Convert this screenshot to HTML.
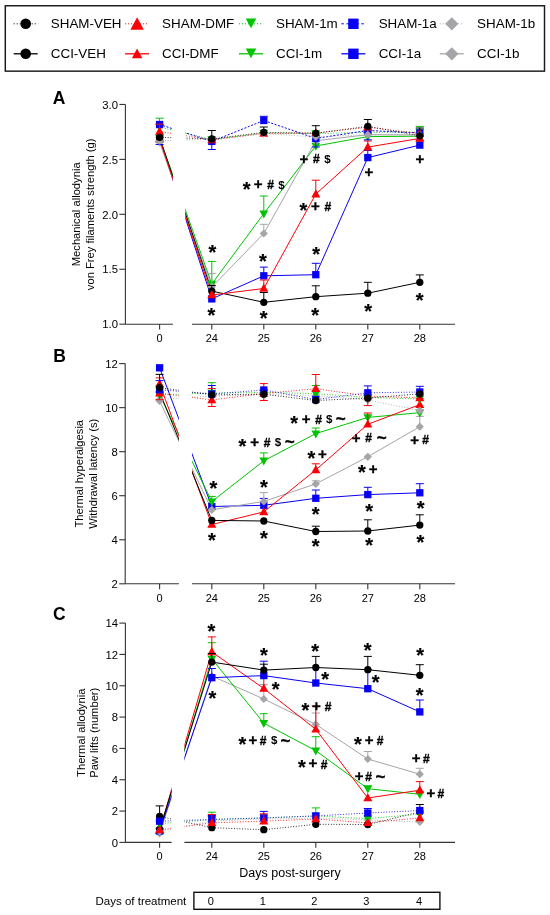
<!DOCTYPE html>
<html><head><meta charset="utf-8"><style>
html,body{margin:0;padding:0;background:#fff;}
svg{display:block;font-family:"Liberation Sans", sans-serif;will-change:transform;}
</style></head><body>
<svg width="550" height="915" viewBox="0 0 550 915">
<rect width="550" height="915" fill="#fff"/>
<rect x="5.3" y="5.75" width="539.2" height="65.4" fill="none" stroke="#1a1a1a" stroke-width="1.45"/>
<line x1="13.7" y1="23.8" x2="37.7" y2="23.8" stroke="#000" stroke-width="1" stroke-dasharray="1 2"/>
<circle cx="25.70" cy="23.80" r="5.3" fill="#000"/>
<text x="50.8" y="28.15" font-size="13.4">SHAM-VEH</text>
<line x1="125.1" y1="23.8" x2="149.1" y2="23.8" stroke="#fb0007" stroke-width="1" stroke-dasharray="1 2"/>
<polygon points="137.10,17.20 143.80,29.70 130.40,29.70" fill="#fb0007"/>
<text x="162.1" y="28.15" font-size="13.4">SHAM-DMF</text>
<line x1="239.0" y1="23.8" x2="263.0" y2="23.8" stroke="#00c400" stroke-width="1" stroke-dasharray="1 2"/>
<polygon points="245.75,18.50 256.25,18.50 251.00,28.30" fill="#00c400"/>
<text x="276.0" y="28.15" font-size="13.4">SHAM-1m</text>
<line x1="341.4" y1="23.8" x2="365.4" y2="23.8" stroke="#0800f2" stroke-width="1" stroke-dasharray="2.5 2.5"/>
<rect x="348.20" y="18.60" width="10.40" height="10.40" fill="#0800f2"/>
<text x="378.7" y="28.15" font-size="13.4">SHAM-1a</text>
<line x1="439.8" y1="23.8" x2="463.8" y2="23.8" stroke="#a5a4a8" stroke-width="1" stroke-dasharray="1 2"/>
<polygon points="451.80,17.19 458.42,23.80 451.80,30.41 445.19,23.80" fill="#a5a4a8"/>
<text x="477.1" y="28.15" font-size="13.4">SHAM-1b</text>
<line x1="13.7" y1="53.8" x2="37.7" y2="53.8" stroke="#000" stroke-width="1.3"/>
<circle cx="25.70" cy="53.80" r="5.3" fill="#000"/>
<text x="50.8" y="58.15" font-size="13.4">CCI-VEH</text>
<line x1="125.1" y1="53.8" x2="149.1" y2="53.8" stroke="#fb0007" stroke-width="1.3"/>
<polygon points="137.10,48.50 142.30,58.30 131.90,58.30" fill="#fb0007"/>
<text x="162.1" y="58.15" font-size="13.4">CCI-DMF</text>
<line x1="239.0" y1="53.8" x2="263.0" y2="53.8" stroke="#00c400" stroke-width="1.3"/>
<polygon points="245.75,48.50 256.25,48.50 251.00,58.30" fill="#00c400"/>
<text x="276.0" y="58.15" font-size="13.4">CCI-1m</text>
<line x1="341.4" y1="53.8" x2="365.4" y2="53.8" stroke="#0800f2" stroke-width="1.3"/>
<rect x="348.20" y="48.60" width="10.40" height="10.40" fill="#0800f2"/>
<text x="378.7" y="58.15" font-size="13.4">CCI-1a</text>
<line x1="439.8" y1="53.8" x2="463.8" y2="53.8" stroke="#a5a4a8" stroke-width="1.3"/>
<polygon points="451.80,47.18 458.42,53.80 451.80,60.41 445.19,53.80" fill="#a5a4a8"/>
<text x="477.1" y="58.15" font-size="13.4">CCI-1b</text>
<text x="52.8" y="103.9" font-size="17.5" font-weight="bold">A</text>
<line x1="125.4" y1="104.45" x2="125.4" y2="324.2" stroke="#333" stroke-width="1.1"/>
<line x1="119.4" y1="104.45" x2="125.4" y2="104.45" stroke="#333" stroke-width="1.1"/>
<text x="118.00" y="108.65" font-size="11.3" text-anchor="end">3.0</text>
<line x1="119.4" y1="159.39" x2="125.4" y2="159.39" stroke="#333" stroke-width="1.1"/>
<text x="118.00" y="163.59" font-size="11.3" text-anchor="end">2.5</text>
<line x1="119.4" y1="214.32" x2="125.4" y2="214.32" stroke="#333" stroke-width="1.1"/>
<text x="118.00" y="218.52" font-size="11.3" text-anchor="end">2.0</text>
<line x1="119.4" y1="269.26" x2="125.4" y2="269.26" stroke="#333" stroke-width="1.1"/>
<text x="118.00" y="273.46" font-size="11.3" text-anchor="end">1.5</text>
<line x1="119.4" y1="324.20" x2="125.4" y2="324.20" stroke="#333" stroke-width="1.1"/>
<text x="118.00" y="328.40" font-size="11.3" text-anchor="end">1.0</text>
<line x1="125.4" y1="324.2" x2="172.9" y2="324.2" stroke="#333" stroke-width="1.1"/>
<line x1="192.0" y1="324.2" x2="455" y2="324.2" stroke="#333" stroke-width="1.1"/>
<line x1="159.6" y1="324.2" x2="159.6" y2="329.60" stroke="#333" stroke-width="1.1"/>
<text x="159.6" y="342.20" font-size="11" text-anchor="middle">0</text>
<line x1="211.8" y1="324.2" x2="211.8" y2="329.60" stroke="#333" stroke-width="1.1"/>
<text x="211.8" y="342.20" font-size="11" text-anchor="middle">24</text>
<line x1="263.8" y1="324.2" x2="263.8" y2="329.60" stroke="#333" stroke-width="1.1"/>
<text x="263.8" y="342.20" font-size="11" text-anchor="middle">25</text>
<line x1="315.8" y1="324.2" x2="315.8" y2="329.60" stroke="#333" stroke-width="1.1"/>
<text x="315.8" y="342.20" font-size="11" text-anchor="middle">26</text>
<line x1="367.8" y1="324.2" x2="367.8" y2="329.60" stroke="#333" stroke-width="1.1"/>
<text x="367.8" y="342.20" font-size="11" text-anchor="middle">27</text>
<line x1="419.8" y1="324.2" x2="419.8" y2="329.60" stroke="#333" stroke-width="1.1"/>
<text x="419.8" y="342.20" font-size="11" text-anchor="middle">28</text>
<text transform="translate(80.3,214.32) rotate(-90)" font-size="11.2" text-anchor="middle">Mechanical allodynia</text>
<text transform="translate(94.0,214.32) rotate(-90)" font-size="11.2" text-anchor="middle">von Frey filaments strength (g)</text>
<text x="53.2" y="362.1" font-size="17.5" font-weight="bold">B</text>
<line x1="125.2" y1="363.6" x2="125.2" y2="583.8" stroke="#333" stroke-width="1.1"/>
<line x1="119.2" y1="363.60" x2="125.2" y2="363.60" stroke="#333" stroke-width="1.1"/>
<text x="117.80" y="367.80" font-size="11.3" text-anchor="end">12</text>
<line x1="119.2" y1="407.64" x2="125.2" y2="407.64" stroke="#333" stroke-width="1.1"/>
<text x="117.80" y="411.84" font-size="11.3" text-anchor="end">10</text>
<line x1="119.2" y1="451.68" x2="125.2" y2="451.68" stroke="#333" stroke-width="1.1"/>
<text x="117.80" y="455.88" font-size="11.3" text-anchor="end">8</text>
<line x1="119.2" y1="495.72" x2="125.2" y2="495.72" stroke="#333" stroke-width="1.1"/>
<text x="117.80" y="499.92" font-size="11.3" text-anchor="end">6</text>
<line x1="119.2" y1="539.76" x2="125.2" y2="539.76" stroke="#333" stroke-width="1.1"/>
<text x="117.80" y="543.96" font-size="11.3" text-anchor="end">4</text>
<line x1="119.2" y1="583.80" x2="125.2" y2="583.80" stroke="#333" stroke-width="1.1"/>
<text x="117.80" y="588.00" font-size="11.3" text-anchor="end">2</text>
<line x1="125.2" y1="583.8" x2="178.9" y2="583.8" stroke="#333" stroke-width="1.1"/>
<line x1="192.0" y1="583.8" x2="455" y2="583.8" stroke="#333" stroke-width="1.1"/>
<line x1="159.6" y1="583.8" x2="159.6" y2="589.20" stroke="#333" stroke-width="1.1"/>
<text x="159.6" y="601.80" font-size="11" text-anchor="middle">0</text>
<line x1="211.8" y1="583.8" x2="211.8" y2="589.20" stroke="#333" stroke-width="1.1"/>
<text x="211.8" y="601.80" font-size="11" text-anchor="middle">24</text>
<line x1="263.8" y1="583.8" x2="263.8" y2="589.20" stroke="#333" stroke-width="1.1"/>
<text x="263.8" y="601.80" font-size="11" text-anchor="middle">25</text>
<line x1="315.8" y1="583.8" x2="315.8" y2="589.20" stroke="#333" stroke-width="1.1"/>
<text x="315.8" y="601.80" font-size="11" text-anchor="middle">26</text>
<line x1="367.8" y1="583.8" x2="367.8" y2="589.20" stroke="#333" stroke-width="1.1"/>
<text x="367.8" y="601.80" font-size="11" text-anchor="middle">27</text>
<line x1="419.8" y1="583.8" x2="419.8" y2="589.20" stroke="#333" stroke-width="1.1"/>
<text x="419.8" y="601.80" font-size="11" text-anchor="middle">28</text>
<text transform="translate(83.2,473.70) rotate(-90)" font-size="11.2" text-anchor="middle">Thermal hyperalgesia</text>
<text transform="translate(96.8,473.70) rotate(-90)" font-size="11.2" text-anchor="middle">Withdrawal latency (s)</text>
<text x="53.1" y="619.7" font-size="17.5" font-weight="bold">C</text>
<line x1="125.4" y1="623.1" x2="125.4" y2="842.4" stroke="#333" stroke-width="1.1"/>
<line x1="119.4" y1="623.10" x2="125.4" y2="623.10" stroke="#333" stroke-width="1.1"/>
<text x="118.00" y="627.30" font-size="11.3" text-anchor="end">14</text>
<line x1="119.4" y1="654.43" x2="125.4" y2="654.43" stroke="#333" stroke-width="1.1"/>
<text x="118.00" y="658.63" font-size="11.3" text-anchor="end">12</text>
<line x1="119.4" y1="685.76" x2="125.4" y2="685.76" stroke="#333" stroke-width="1.1"/>
<text x="118.00" y="689.96" font-size="11.3" text-anchor="end">10</text>
<line x1="119.4" y1="717.09" x2="125.4" y2="717.09" stroke="#333" stroke-width="1.1"/>
<text x="118.00" y="721.29" font-size="11.3" text-anchor="end">8</text>
<line x1="119.4" y1="748.41" x2="125.4" y2="748.41" stroke="#333" stroke-width="1.1"/>
<text x="118.00" y="752.61" font-size="11.3" text-anchor="end">6</text>
<line x1="119.4" y1="779.74" x2="125.4" y2="779.74" stroke="#333" stroke-width="1.1"/>
<text x="118.00" y="783.94" font-size="11.3" text-anchor="end">4</text>
<line x1="119.4" y1="811.07" x2="125.4" y2="811.07" stroke="#333" stroke-width="1.1"/>
<text x="118.00" y="815.27" font-size="11.3" text-anchor="end">2</text>
<line x1="119.4" y1="842.40" x2="125.4" y2="842.40" stroke="#333" stroke-width="1.1"/>
<text x="118.00" y="846.60" font-size="11.3" text-anchor="end">0</text>
<line x1="125.4" y1="842.4" x2="171.6" y2="842.4" stroke="#333" stroke-width="1.1"/>
<line x1="184.4" y1="842.4" x2="455" y2="842.4" stroke="#333" stroke-width="1.1"/>
<line x1="159.6" y1="842.4" x2="159.6" y2="847.80" stroke="#333" stroke-width="1.1"/>
<text x="159.6" y="860.40" font-size="11" text-anchor="middle">0</text>
<line x1="211.8" y1="842.4" x2="211.8" y2="847.80" stroke="#333" stroke-width="1.1"/>
<text x="211.8" y="860.40" font-size="11" text-anchor="middle">24</text>
<line x1="263.8" y1="842.4" x2="263.8" y2="847.80" stroke="#333" stroke-width="1.1"/>
<text x="263.8" y="860.40" font-size="11" text-anchor="middle">25</text>
<line x1="315.8" y1="842.4" x2="315.8" y2="847.80" stroke="#333" stroke-width="1.1"/>
<text x="315.8" y="860.40" font-size="11" text-anchor="middle">26</text>
<line x1="367.8" y1="842.4" x2="367.8" y2="847.80" stroke="#333" stroke-width="1.1"/>
<text x="367.8" y="860.40" font-size="11" text-anchor="middle">27</text>
<line x1="419.8" y1="842.4" x2="419.8" y2="847.80" stroke="#333" stroke-width="1.1"/>
<text x="419.8" y="860.40" font-size="11" text-anchor="middle">28</text>
<text transform="translate(85.1,732.75) rotate(-90)" font-size="11.2" text-anchor="middle">Thermal allodynia</text>
<text transform="translate(98.2,732.75) rotate(-90)" font-size="11.2" text-anchor="middle">Paw lifts (number)</text>
<defs>
<clipPath id="clipA"><rect x="0" y="0" width="172.9" height="915"/><rect x="185.3" y="0" width="364.7" height="915"/></clipPath>
<clipPath id="clipB"><rect x="0" y="0" width="178.9" height="915"/><rect x="192.0" y="0" width="358.0" height="915"/></clipPath>
<clipPath id="clipC"><rect x="0" y="0" width="171.6" height="915"/><rect x="184.4" y="0" width="365.6" height="915"/></clipPath>
</defs>
<g clip-path="url(#clipA)" fill="none">
<polyline points="159.6,139.0 211.8,298.9 263.8,275.8 315.8,274.7 367.8,157.6 419.8,145.1" stroke="#0800f2" stroke-width="1.0"/>
<polyline points="159.6,138.0 211.8,284.0 263.8,213.6 315.8,146.0 367.8,136.6 419.8,136.2" stroke="#00c400" stroke-width="1.0"/>
<polyline points="159.6,142.5 211.8,287.0 263.8,233.5 315.8,140.8 367.8,134.7 419.8,135.0" stroke="#a5a4a8" stroke-width="1.0"/>
<polyline points="159.6,137.5 211.8,291.1 263.8,302.3 315.8,296.7 367.8,293.2 419.8,282.3" stroke="#000" stroke-width="1.0"/>
<polyline points="159.6,139.0 211.8,295.0 263.8,288.5 315.8,194.1 367.8,147.1 419.8,138.4" stroke="#fb0007" stroke-width="1.0"/>
<polyline points="159.6,127.0 211.8,139.5 263.8,133.0 315.8,133.5 367.8,132.5 419.8,132.0" stroke="#00c400" stroke-width="0.9" stroke-dasharray="0.9 1.8"/>
<polyline points="159.6,124.5 211.8,141.4 263.8,120.5 315.8,138.4 367.8,130.5 419.8,133.0" stroke="#0800f2" stroke-width="1" stroke-dasharray="2 1.6"/>
<polyline points="159.6,131.5 211.8,140.0 263.8,133.5 315.8,133.0 367.8,127.2 419.8,133.5" stroke="#fb0007" stroke-width="0.9" stroke-dasharray="0.9 1.8"/>
<polyline points="159.6,141.0 211.8,139.0 263.8,133.5 315.8,137.0 367.8,134.7 419.8,134.5" stroke="#a5a4a8" stroke-width="0.9" stroke-dasharray="0.9 1.8"/>
<polyline points="159.6,137.3 211.8,139.0 263.8,132.3 315.8,133.3 367.8,126.3 419.8,135.8" stroke="#000" stroke-width="0.9" stroke-dasharray="0.9 1.8"/>
</g>
<path d="M263.8 275.8V267.1M259.8 267.1H267.8" stroke="#0800f2" stroke-width="1" fill="none"/>
<path d="M315.8 274.7V263.3M311.8 263.3H319.8" stroke="#0800f2" stroke-width="1" fill="none"/>
<path d="M367.8 157.6V150.5M363.8 150.5H371.8" stroke="#0800f2" stroke-width="1" fill="none"/>
<path d="M419.8 145.1V140.0M415.8 140.0H423.8" stroke="#0800f2" stroke-width="1" fill="none"/>
<rect x="155.95" y="135.35" width="7.30" height="7.30" fill="#0800f2"/>
<rect x="208.15" y="295.25" width="7.30" height="7.30" fill="#0800f2"/>
<rect x="260.15" y="272.15" width="7.30" height="7.30" fill="#0800f2"/>
<rect x="312.15" y="271.05" width="7.30" height="7.30" fill="#0800f2"/>
<rect x="364.15" y="153.95" width="7.30" height="7.30" fill="#0800f2"/>
<rect x="416.15" y="141.45" width="7.30" height="7.30" fill="#0800f2"/>
<path d="M211.8 284.0V261.4M207.8 261.4H215.8" stroke="#00c400" stroke-width="1" fill="none"/>
<path d="M263.8 213.6V196.0M259.8 196.0H267.8" stroke="#00c400" stroke-width="1" fill="none"/>
<path d="M315.8 146.0V140.0M311.8 140.0H319.8" stroke="#00c400" stroke-width="1" fill="none"/>
<path d="M419.8 136.2V126.4M415.8 126.4H423.8" stroke="#00c400" stroke-width="1" fill="none"/>
<polygon points="155.20,134.80 164.00,134.80 159.60,142.80" fill="#00c400"/>
<polygon points="207.40,280.80 216.20,280.80 211.80,288.80" fill="#00c400"/>
<polygon points="259.40,210.40 268.20,210.40 263.80,218.40" fill="#00c400"/>
<polygon points="311.40,142.80 320.20,142.80 315.80,150.80" fill="#00c400"/>
<polygon points="363.40,133.40 372.20,133.40 367.80,141.40" fill="#00c400"/>
<polygon points="415.40,133.00 424.20,133.00 419.80,141.00" fill="#00c400"/>
<path d="M211.8 287.0V273.4M207.8 273.4H215.8" stroke="#a5a4a8" stroke-width="1" fill="none"/>
<path d="M263.8 233.5V224.3M259.8 224.3H267.8" stroke="#a5a4a8" stroke-width="1" fill="none"/>
<polygon points="159.60,138.41 163.69,142.50 159.60,146.59 155.50,142.50" fill="#a5a4a8"/>
<polygon points="211.80,282.90 215.90,287.00 211.80,291.10 207.71,287.00" fill="#a5a4a8"/>
<polygon points="263.80,229.41 267.90,233.50 263.80,237.59 259.70,233.50" fill="#a5a4a8"/>
<polygon points="315.80,136.71 319.90,140.80 315.80,144.90 311.70,140.80" fill="#a5a4a8"/>
<polygon points="367.80,130.60 371.90,134.70 367.80,138.79 363.70,134.70" fill="#a5a4a8"/>
<polygon points="419.80,130.91 423.90,135.00 419.80,139.09 415.70,135.00" fill="#a5a4a8"/>
<path d="M211.8 291.1V285.5M207.8 285.5H215.8" stroke="#000" stroke-width="1" fill="none"/>
<path d="M263.8 302.3V292.5M259.8 292.5H267.8" stroke="#000" stroke-width="1" fill="none"/>
<path d="M315.8 296.7V285.8M311.8 285.8H319.8" stroke="#000" stroke-width="1" fill="none"/>
<path d="M367.8 293.2V282.3M363.8 282.3H371.8" stroke="#000" stroke-width="1" fill="none"/>
<path d="M419.8 282.3V274.9M415.8 274.9H423.8" stroke="#000" stroke-width="1" fill="none"/>
<circle cx="159.60" cy="137.50" r="3.65" fill="#000"/>
<circle cx="211.80" cy="291.10" r="3.65" fill="#000"/>
<circle cx="263.80" cy="302.30" r="3.65" fill="#000"/>
<circle cx="315.80" cy="296.70" r="3.65" fill="#000"/>
<circle cx="367.80" cy="293.20" r="3.65" fill="#000"/>
<circle cx="419.80" cy="282.30" r="3.65" fill="#000"/>
<path d="M263.8 288.5V280.0M259.8 280.0H267.8" stroke="#fb0007" stroke-width="1" fill="none"/>
<path d="M315.8 194.1V180.2M311.8 180.2H319.8" stroke="#fb0007" stroke-width="1" fill="none"/>
<path d="M367.8 147.1V141.0M363.8 141.0H371.8" stroke="#fb0007" stroke-width="1" fill="none"/>
<polygon points="159.60,134.08 164.11,142.28 155.09,142.28" fill="#fb0007"/>
<polygon points="211.80,290.08 216.31,298.28 207.29,298.28" fill="#fb0007"/>
<polygon points="263.80,283.58 268.31,291.78 259.29,291.78" fill="#fb0007"/>
<polygon points="315.80,189.18 320.31,197.38 311.29,197.38" fill="#fb0007"/>
<polygon points="367.80,142.18 372.31,150.38 363.29,150.38" fill="#fb0007"/>
<polygon points="419.80,133.48 424.31,141.68 415.29,141.68" fill="#fb0007"/>
<path d="M159.6 127.0V118.2M155.6 118.2H163.6" stroke="#00c400" stroke-width="1" fill="none"/>
<polygon points="155.20,123.80 164.00,123.80 159.60,131.80" fill="#00c400"/>
<polygon points="207.40,136.30 216.20,136.30 211.80,144.30" fill="#00c400"/>
<polygon points="259.40,129.80 268.20,129.80 263.80,137.80" fill="#00c400"/>
<polygon points="311.40,130.30 320.20,130.30 315.80,138.30" fill="#00c400"/>
<polygon points="363.40,129.30 372.20,129.30 367.80,137.30" fill="#00c400"/>
<polygon points="415.40,128.80 424.20,128.80 419.80,136.80" fill="#00c400"/>
<path d="M159.6 124.5V144.5M155.6 144.5H163.6" stroke="#0800f2" stroke-width="1" fill="none"/>
<path d="M211.8 141.4V149.5M207.8 149.5H215.8" stroke="#0800f2" stroke-width="1" fill="none"/>
<path d="M263.8 120.5V116.3M259.8 116.3H267.8" stroke="#0800f2" stroke-width="1" fill="none"/>
<path d="M315.8 138.4V147.0M311.8 147.0H319.8" stroke="#0800f2" stroke-width="1" fill="none"/>
<path d="M367.8 130.5V139.8M363.8 139.8H371.8" stroke="#0800f2" stroke-width="1" fill="none"/>
<rect x="155.95" y="120.85" width="7.30" height="7.30" fill="#0800f2"/>
<rect x="208.15" y="137.75" width="7.30" height="7.30" fill="#0800f2"/>
<rect x="260.15" y="116.85" width="7.30" height="7.30" fill="#0800f2"/>
<rect x="312.15" y="134.75" width="7.30" height="7.30" fill="#0800f2"/>
<rect x="364.15" y="126.85" width="7.30" height="7.30" fill="#0800f2"/>
<rect x="416.15" y="129.35" width="7.30" height="7.30" fill="#0800f2"/>
<path d="M159.6 131.5V124.2M155.6 124.2H163.6" stroke="#fb0007" stroke-width="1" fill="none"/>
<polygon points="159.60,126.58 164.11,134.78 155.09,134.78" fill="#fb0007"/>
<polygon points="211.80,135.08 216.31,143.28 207.29,143.28" fill="#fb0007"/>
<polygon points="263.80,128.58 268.31,136.78 259.29,136.78" fill="#fb0007"/>
<polygon points="315.80,128.08 320.31,136.28 311.29,136.28" fill="#fb0007"/>
<polygon points="367.80,122.28 372.31,130.48 363.29,130.48" fill="#fb0007"/>
<polygon points="419.80,128.58 424.31,136.78 415.29,136.78" fill="#fb0007"/>
<polygon points="159.60,136.91 163.69,141.00 159.60,145.09 155.50,141.00" fill="#a5a4a8"/>
<polygon points="211.80,134.91 215.90,139.00 211.80,143.09 207.71,139.00" fill="#a5a4a8"/>
<polygon points="263.80,129.41 267.90,133.50 263.80,137.59 259.70,133.50" fill="#a5a4a8"/>
<polygon points="315.80,132.91 319.90,137.00 315.80,141.09 311.70,137.00" fill="#a5a4a8"/>
<polygon points="367.80,130.60 371.90,134.70 367.80,138.79 363.70,134.70" fill="#a5a4a8"/>
<polygon points="419.80,130.41 423.90,134.50 419.80,138.59 415.70,134.50" fill="#a5a4a8"/>
<path d="M211.8 139.0V130.5M207.8 130.5H215.8" stroke="#000" stroke-width="1" fill="none"/>
<path d="M263.8 132.3V127.0M259.8 127.0H267.8" stroke="#000" stroke-width="1" fill="none"/>
<path d="M315.8 133.3V125.7M311.8 125.7H319.8" stroke="#000" stroke-width="1" fill="none"/>
<path d="M367.8 126.3V119.5M363.8 119.5H371.8" stroke="#000" stroke-width="1" fill="none"/>
<path d="M419.8 135.8V128.0M415.8 128.0H423.8" stroke="#000" stroke-width="1" fill="none"/>
<circle cx="159.60" cy="137.30" r="3.65" fill="#000"/>
<circle cx="211.80" cy="139.00" r="3.65" fill="#000"/>
<circle cx="263.80" cy="132.30" r="3.65" fill="#000"/>
<circle cx="315.80" cy="133.30" r="3.65" fill="#000"/>
<circle cx="367.80" cy="126.30" r="3.65" fill="#000"/>
<circle cx="419.80" cy="135.80" r="3.65" fill="#000"/>
<text x="212.4" y="259.2" font-size="20" font-weight="bold" text-anchor="middle" stroke="#000" stroke-width="0.2">*</text>
<text x="211.4" y="321.8" font-size="20" font-weight="bold" text-anchor="middle" stroke="#000" stroke-width="0.2">*</text>
<text x="246.7" y="195.7" font-size="20" font-weight="bold" text-anchor="middle" stroke="#000" stroke-width="0.2">*</text>
<text x="258.1" y="189.2" font-size="15" font-weight="bold" text-anchor="middle" stroke="#000" stroke-width="0.35">+</text>
<text x="270.6" y="188.7" font-size="12" font-weight="bold" text-anchor="middle" stroke="#000" stroke-width="0.35">#</text>
<text x="281.4" y="188.5" font-size="11.5" font-weight="bold" text-anchor="middle" stroke="#000" stroke-width="0">$</text>
<text x="263.0" y="267.8" font-size="20" font-weight="bold" text-anchor="middle" stroke="#000" stroke-width="0.2">*</text>
<text x="263.6" y="325.2" font-size="20" font-weight="bold" text-anchor="middle" stroke="#000" stroke-width="0.2">*</text>
<text x="303.8" y="163.6" font-size="15" font-weight="bold" text-anchor="middle" stroke="#000" stroke-width="0.35">+</text>
<text x="316.3" y="163.3" font-size="12" font-weight="bold" text-anchor="middle" stroke="#000" stroke-width="0.35">#</text>
<text x="327.4" y="162.9" font-size="11.5" font-weight="bold" text-anchor="middle" stroke="#000" stroke-width="0">$</text>
<text x="303.4" y="217.0" font-size="20" font-weight="bold" text-anchor="middle" stroke="#000" stroke-width="0.2">*</text>
<text x="315.3" y="211.2" font-size="15" font-weight="bold" text-anchor="middle" stroke="#000" stroke-width="0.35">+</text>
<text x="327.8" y="211.0" font-size="12" font-weight="bold" text-anchor="middle" stroke="#000" stroke-width="0.35">#</text>
<text x="316.2" y="260.6" font-size="20" font-weight="bold" text-anchor="middle" stroke="#000" stroke-width="0.2">*</text>
<text x="315.1" y="321.5" font-size="20" font-weight="bold" text-anchor="middle" stroke="#000" stroke-width="0.2">*</text>
<text x="369.0" y="177.2" font-size="15" font-weight="bold" text-anchor="middle" stroke="#000" stroke-width="0.35">+</text>
<text x="368.2" y="318.1" font-size="20" font-weight="bold" text-anchor="middle" stroke="#000" stroke-width="0.2">*</text>
<text x="419.8" y="164.2" font-size="15" font-weight="bold" text-anchor="middle" stroke="#000" stroke-width="0.35">+</text>
<text x="419.7" y="306.8" font-size="20" font-weight="bold" text-anchor="middle" stroke="#000" stroke-width="0.2">*</text>
<g clip-path="url(#clipB)" fill="none">
<polyline points="159.6,367.8 211.8,506.5 263.8,505.3 315.8,498.3 367.8,494.6 419.8,492.8" stroke="#0800f2" stroke-width="1.0"/>
<polyline points="159.6,401.0 211.8,509.8 263.8,501.4 315.8,483.9 367.8,456.8 419.8,426.7" stroke="#a5a4a8" stroke-width="1.0"/>
<polyline points="159.6,395.0 211.8,501.6 263.8,460.8 315.8,433.6 367.8,417.4 419.8,412.7" stroke="#00c400" stroke-width="1.0"/>
<polyline points="159.6,384.0 211.8,524.5 263.8,511.9 315.8,469.9 367.8,424.3 419.8,404.6" stroke="#fb0007" stroke-width="1.0"/>
<polyline points="159.6,392.0 211.8,520.4 263.8,521.0 315.8,531.5 367.8,531.0 419.8,525.1" stroke="#000" stroke-width="1.0"/>
<polyline points="159.6,399.5 211.8,396.0 263.8,394.5 315.8,395.5 367.8,400.0 419.8,410.5" stroke="#a5a4a8" stroke-width="0.9" stroke-dasharray="0.9 1.8"/>
<polyline points="159.6,394.8 211.8,393.0 263.8,392.5 315.8,393.6 367.8,397.5 419.8,399.0" stroke="#00c400" stroke-width="0.9" stroke-dasharray="0.9 1.8"/>
<polyline points="159.6,393.2 211.8,399.9 263.8,393.5 315.8,388.7 367.8,396.0 419.8,398.0" stroke="#fb0007" stroke-width="0.9" stroke-dasharray="0.9 1.8"/>
<polyline points="159.6,389.7 211.8,394.0 263.8,390.0 315.8,399.5 367.8,392.8 419.8,392.0" stroke="#0800f2" stroke-width="0.9" stroke-dasharray="0.9 1.8"/>
<polyline points="159.6,387.7 211.8,394.8 263.8,394.2 315.8,400.5 367.8,398.1 419.8,393.8" stroke="#000" stroke-width="0.9" stroke-dasharray="0.9 1.8"/>
</g>
<path d="M263.8 505.3V498.4M259.8 498.4H267.8" stroke="#0800f2" stroke-width="1" fill="none"/>
<path d="M315.8 498.3V490.0M311.8 490.0H319.8" stroke="#0800f2" stroke-width="1" fill="none"/>
<path d="M367.8 494.6V487.3M363.8 487.3H371.8" stroke="#0800f2" stroke-width="1" fill="none"/>
<path d="M419.8 492.8V483.7M415.8 483.7H423.8" stroke="#0800f2" stroke-width="1" fill="none"/>
<rect x="155.95" y="364.15" width="7.30" height="7.30" fill="#0800f2"/>
<rect x="208.15" y="502.85" width="7.30" height="7.30" fill="#0800f2"/>
<rect x="260.15" y="501.65" width="7.30" height="7.30" fill="#0800f2"/>
<rect x="312.15" y="494.65" width="7.30" height="7.30" fill="#0800f2"/>
<rect x="364.15" y="490.95" width="7.30" height="7.30" fill="#0800f2"/>
<rect x="416.15" y="489.15" width="7.30" height="7.30" fill="#0800f2"/>
<path d="M263.8 501.4V492.6M259.8 492.6H267.8" stroke="#a5a4a8" stroke-width="1" fill="none"/>
<path d="M315.8 483.9V480.8M311.8 480.8H319.8" stroke="#a5a4a8" stroke-width="1" fill="none"/>
<path d="M419.8 426.7V416.4M415.8 416.4H423.8" stroke="#a5a4a8" stroke-width="1" fill="none"/>
<polygon points="159.60,396.90 163.69,401.00 159.60,405.10 155.50,401.00" fill="#a5a4a8"/>
<polygon points="211.80,505.70 215.90,509.80 211.80,513.89 207.71,509.80" fill="#a5a4a8"/>
<polygon points="263.80,497.30 267.90,501.40 263.80,505.50 259.70,501.40" fill="#a5a4a8"/>
<polygon points="315.80,479.80 319.90,483.90 315.80,488.00 311.70,483.90" fill="#a5a4a8"/>
<polygon points="367.80,452.70 371.90,456.80 367.80,460.90 363.70,456.80" fill="#a5a4a8"/>
<polygon points="419.80,422.60 423.90,426.70 419.80,430.80 415.70,426.70" fill="#a5a4a8"/>
<path d="M211.8 501.6V496.4M207.8 496.4H215.8" stroke="#00c400" stroke-width="1" fill="none"/>
<path d="M263.8 460.8V452.9M259.8 452.9H267.8" stroke="#00c400" stroke-width="1" fill="none"/>
<path d="M315.8 433.6V428.0M311.8 428.0H319.8" stroke="#00c400" stroke-width="1" fill="none"/>
<polygon points="155.20,391.80 164.00,391.80 159.60,399.80" fill="#00c400"/>
<polygon points="207.40,498.40 216.20,498.40 211.80,506.40" fill="#00c400"/>
<polygon points="259.40,457.60 268.20,457.60 263.80,465.60" fill="#00c400"/>
<polygon points="311.40,430.40 320.20,430.40 315.80,438.40" fill="#00c400"/>
<polygon points="363.40,414.20 372.20,414.20 367.80,422.20" fill="#00c400"/>
<polygon points="415.40,409.50 424.20,409.50 419.80,417.50" fill="#00c400"/>
<path d="M159.6 384.0V377.9M155.6 377.9H163.6" stroke="#fb0007" stroke-width="1" fill="none"/>
<path d="M315.8 469.9V463.8M311.8 463.8H319.8" stroke="#fb0007" stroke-width="1" fill="none"/>
<path d="M367.8 424.3V413.0M363.8 413.0H371.8" stroke="#fb0007" stroke-width="1" fill="none"/>
<path d="M419.8 404.6V398.7M415.8 398.7H423.8" stroke="#fb0007" stroke-width="1" fill="none"/>
<polygon points="159.60,379.08 164.11,387.28 155.09,387.28" fill="#fb0007"/>
<polygon points="211.80,519.58 216.31,527.78 207.29,527.78" fill="#fb0007"/>
<polygon points="263.80,506.98 268.31,515.18 259.29,515.18" fill="#fb0007"/>
<polygon points="315.80,464.98 320.31,473.18 311.29,473.18" fill="#fb0007"/>
<polygon points="367.80,419.38 372.31,427.58 363.29,427.58" fill="#fb0007"/>
<polygon points="419.80,399.68 424.31,407.88 415.29,407.88" fill="#fb0007"/>
<path d="M159.6 392.0V374.4M155.6 374.4H163.6" stroke="#000" stroke-width="1" fill="none"/>
<path d="M315.8 531.5V526.2M311.8 526.2H319.8" stroke="#000" stroke-width="1" fill="none"/>
<path d="M367.8 531.0V519.8M363.8 519.8H371.8" stroke="#000" stroke-width="1" fill="none"/>
<path d="M419.8 525.1V514.8M415.8 514.8H423.8" stroke="#000" stroke-width="1" fill="none"/>
<circle cx="159.60" cy="392.00" r="3.65" fill="#000"/>
<circle cx="211.80" cy="520.40" r="3.65" fill="#000"/>
<circle cx="263.80" cy="521.00" r="3.65" fill="#000"/>
<circle cx="315.80" cy="531.50" r="3.65" fill="#000"/>
<circle cx="367.80" cy="531.00" r="3.65" fill="#000"/>
<circle cx="419.80" cy="525.10" r="3.65" fill="#000"/>
<polygon points="159.60,395.40 163.69,399.50 159.60,403.60 155.50,399.50" fill="#a5a4a8"/>
<polygon points="211.80,391.90 215.90,396.00 211.80,400.10 207.71,396.00" fill="#a5a4a8"/>
<polygon points="263.80,390.40 267.90,394.50 263.80,398.60 259.70,394.50" fill="#a5a4a8"/>
<polygon points="315.80,391.40 319.90,395.50 315.80,399.60 311.70,395.50" fill="#a5a4a8"/>
<polygon points="367.80,395.90 371.90,400.00 367.80,404.10 363.70,400.00" fill="#a5a4a8"/>
<polygon points="419.80,406.40 423.90,410.50 419.80,414.60 415.70,410.50" fill="#a5a4a8"/>
<path d="M211.8 393.0V382.7M207.8 382.7H215.8" stroke="#00c400" stroke-width="1" fill="none"/>
<path d="M315.8 393.6V385.5M311.8 385.5H319.8" stroke="#00c400" stroke-width="1" fill="none"/>
<polygon points="155.20,391.60 164.00,391.60 159.60,399.60" fill="#00c400"/>
<polygon points="207.40,389.80 216.20,389.80 211.80,397.80" fill="#00c400"/>
<polygon points="259.40,389.30 268.20,389.30 263.80,397.30" fill="#00c400"/>
<polygon points="311.40,390.40 320.20,390.40 315.80,398.40" fill="#00c400"/>
<polygon points="363.40,394.30 372.20,394.30 367.80,402.30" fill="#00c400"/>
<polygon points="415.40,395.80 424.20,395.80 419.80,403.80" fill="#00c400"/>
<path d="M159.6 393.2V399.7M155.6 399.7H163.6" stroke="#fb0007" stroke-width="1" fill="none"/>
<path d="M211.8 399.9V388.5M207.8 388.5H215.8" stroke="#fb0007" stroke-width="1" fill="none"/>
<path d="M211.8 399.9V406.5M207.8 406.5H215.8" stroke="#fb0007" stroke-width="1" fill="none"/>
<path d="M263.8 393.5V383.6M259.8 383.6H267.8" stroke="#fb0007" stroke-width="1" fill="none"/>
<path d="M263.8 393.5V400.5M259.8 400.5H267.8" stroke="#fb0007" stroke-width="1" fill="none"/>
<path d="M315.8 388.7V374.5M311.8 374.5H319.8" stroke="#fb0007" stroke-width="1" fill="none"/>
<path d="M367.8 396.0V405.6M363.8 405.6H371.8" stroke="#fb0007" stroke-width="1" fill="none"/>
<polygon points="159.60,388.28 164.11,396.48 155.09,396.48" fill="#fb0007"/>
<polygon points="211.80,394.98 216.31,403.18 207.29,403.18" fill="#fb0007"/>
<polygon points="263.80,388.58 268.31,396.78 259.29,396.78" fill="#fb0007"/>
<polygon points="315.80,383.78 320.31,391.98 311.29,391.98" fill="#fb0007"/>
<polygon points="367.80,391.08 372.31,399.28 363.29,399.28" fill="#fb0007"/>
<polygon points="419.80,393.08 424.31,401.28 415.29,401.28" fill="#fb0007"/>
<path d="M159.6 389.7V380.6M155.6 380.6H163.6" stroke="#0800f2" stroke-width="1" fill="none"/>
<path d="M211.8 394.0V385.5M207.8 385.5H215.8" stroke="#0800f2" stroke-width="1" fill="none"/>
<path d="M367.8 392.8V385.9M363.8 385.9H371.8" stroke="#0800f2" stroke-width="1" fill="none"/>
<path d="M419.8 392.0V386.3M415.8 386.3H423.8" stroke="#0800f2" stroke-width="1" fill="none"/>
<rect x="155.95" y="386.05" width="7.30" height="7.30" fill="#0800f2"/>
<rect x="208.15" y="390.35" width="7.30" height="7.30" fill="#0800f2"/>
<rect x="260.15" y="386.35" width="7.30" height="7.30" fill="#0800f2"/>
<rect x="312.15" y="395.85" width="7.30" height="7.30" fill="#0800f2"/>
<rect x="364.15" y="389.15" width="7.30" height="7.30" fill="#0800f2"/>
<rect x="416.15" y="388.35" width="7.30" height="7.30" fill="#0800f2"/>
<circle cx="159.60" cy="387.70" r="3.65" fill="#000"/>
<circle cx="211.80" cy="394.80" r="3.65" fill="#000"/>
<circle cx="263.80" cy="394.20" r="3.65" fill="#000"/>
<circle cx="315.80" cy="400.50" r="3.65" fill="#000"/>
<circle cx="367.80" cy="398.10" r="3.65" fill="#000"/>
<circle cx="419.80" cy="393.80" r="3.65" fill="#000"/>
<text x="213.4" y="495.1" font-size="20" font-weight="bold" text-anchor="middle" stroke="#000" stroke-width="0.2">*</text>
<text x="211.8" y="547.0" font-size="20" font-weight="bold" text-anchor="middle" stroke="#000" stroke-width="0.2">*</text>
<text x="242.4" y="452.9" font-size="20" font-weight="bold" text-anchor="middle" stroke="#000" stroke-width="0.2">*</text>
<text x="254.7" y="446.9" font-size="15" font-weight="bold" text-anchor="middle" stroke="#000" stroke-width="0.35">+</text>
<text x="267.0" y="446.6" font-size="12" font-weight="bold" text-anchor="middle" stroke="#000" stroke-width="0.35">#</text>
<text x="278.0" y="446.4" font-size="11.5" font-weight="bold" text-anchor="middle" stroke="#000" stroke-width="0">$</text>
<text x="289.7" y="447.3" font-size="17" font-weight="bold" text-anchor="middle" stroke="#000" stroke-width="0.35">~</text>
<text x="263.9" y="494.1" font-size="20" font-weight="bold" text-anchor="middle" stroke="#000" stroke-width="0.2">*</text>
<text x="264.0" y="544.8" font-size="20" font-weight="bold" text-anchor="middle" stroke="#000" stroke-width="0.2">*</text>
<text x="294.2" y="430.1" font-size="20" font-weight="bold" text-anchor="middle" stroke="#000" stroke-width="0.2">*</text>
<text x="306.2" y="424.4" font-size="15" font-weight="bold" text-anchor="middle" stroke="#000" stroke-width="0.35">+</text>
<text x="318.5" y="423.8" font-size="12" font-weight="bold" text-anchor="middle" stroke="#000" stroke-width="0.35">#</text>
<text x="329.3" y="423.3" font-size="11.5" font-weight="bold" text-anchor="middle" stroke="#000" stroke-width="0">$</text>
<text x="340.8" y="424.4" font-size="17" font-weight="bold" text-anchor="middle" stroke="#000" stroke-width="0.35">~</text>
<text x="311.4" y="465.1" font-size="20" font-weight="bold" text-anchor="middle" stroke="#000" stroke-width="0.2">*</text>
<text x="322.3" y="459.4" font-size="15" font-weight="bold" text-anchor="middle" stroke="#000" stroke-width="0.35">+</text>
<text x="315.6" y="521.1" font-size="20" font-weight="bold" text-anchor="middle" stroke="#000" stroke-width="0.2">*</text>
<text x="315.6" y="553.4" font-size="20" font-weight="bold" text-anchor="middle" stroke="#000" stroke-width="0.2">*</text>
<text x="356.2" y="442.6" font-size="15" font-weight="bold" text-anchor="middle" stroke="#000" stroke-width="0.35">+</text>
<text x="368.5" y="441.9" font-size="12" font-weight="bold" text-anchor="middle" stroke="#000" stroke-width="0.35">#</text>
<text x="381.6" y="442.7" font-size="17" font-weight="bold" text-anchor="middle" stroke="#000" stroke-width="0.35">~</text>
<text x="361.8" y="479.4" font-size="20" font-weight="bold" text-anchor="middle" stroke="#000" stroke-width="0.2">*</text>
<text x="373.2" y="473.6" font-size="15" font-weight="bold" text-anchor="middle" stroke="#000" stroke-width="0.35">+</text>
<text x="369.2" y="517.9" font-size="20" font-weight="bold" text-anchor="middle" stroke="#000" stroke-width="0.2">*</text>
<text x="369.1" y="552.1" font-size="20" font-weight="bold" text-anchor="middle" stroke="#000" stroke-width="0.2">*</text>
<text x="414.7" y="444.6" font-size="15" font-weight="bold" text-anchor="middle" stroke="#000" stroke-width="0.35">+</text>
<text x="425.6" y="443.9" font-size="12" font-weight="bold" text-anchor="middle" stroke="#000" stroke-width="0.35">#</text>
<text x="420.6" y="515.0" font-size="20" font-weight="bold" text-anchor="middle" stroke="#000" stroke-width="0.2">*</text>
<text x="420.5" y="549.4" font-size="20" font-weight="bold" text-anchor="middle" stroke="#000" stroke-width="0.2">*</text>
<g clip-path="url(#clipC)" fill="none">
<polyline points="159.6,833.5 211.8,676.0 263.8,699.0 315.8,724.4 367.8,759.0 419.8,774.2" stroke="#a5a4a8" stroke-width="1.0"/>
<polyline points="159.6,831.5 211.8,658.9 263.8,723.2 315.8,750.7 367.8,788.7 419.8,794.3" stroke="#00c400" stroke-width="1.0"/>
<polyline points="159.6,830.6 211.8,651.9 263.8,688.5 315.8,729.3 367.8,798.0 419.8,790.2" stroke="#fb0007" stroke-width="1.0"/>
<polyline points="159.6,831.0 211.8,677.7 263.8,675.6 315.8,683.0 367.8,688.7 419.8,711.9" stroke="#0800f2" stroke-width="1.0"/>
<polyline points="159.6,829.5 211.8,662.1 263.8,670.1 315.8,667.5 367.8,669.7 419.8,675.3" stroke="#000" stroke-width="1.0"/>
<polyline points="159.6,831.5 211.8,821.0 263.8,819.0 315.8,818.0 367.8,820.0 419.8,822.0" stroke="#a5a4a8" stroke-width="0.9" stroke-dasharray="0.9 1.8"/>
<polyline points="159.6,816.5 211.8,827.7 263.8,829.7 315.8,824.3 367.8,824.5 419.8,812.0" stroke="#000" stroke-width="0.9" stroke-dasharray="0.9 1.8"/>
<polyline points="159.6,823.6 211.8,819.5 263.8,818.0 315.8,816.0 367.8,818.7 419.8,814.0" stroke="#00c400" stroke-width="0.9" stroke-dasharray="0.9 1.8"/>
<polyline points="159.6,821.2 211.8,819.5 263.8,817.9 315.8,815.9 367.8,813.0 419.8,810.5" stroke="#0800f2" stroke-width="0.9" stroke-dasharray="0.9 1.8"/>
<polyline points="159.6,829.9 211.8,822.8 263.8,821.2 315.8,819.0 367.8,822.8 419.8,817.9" stroke="#fb0007" stroke-width="0.9" stroke-dasharray="0.9 1.8"/>
</g>
<path d="M263.8 699.0V684.5M259.8 684.5H267.8" stroke="#a5a4a8" stroke-width="1" fill="none"/>
<path d="M315.8 724.4V713.0M311.8 713.0H319.8" stroke="#a5a4a8" stroke-width="1" fill="none"/>
<path d="M367.8 759.0V751.5M363.8 751.5H371.8" stroke="#a5a4a8" stroke-width="1" fill="none"/>
<path d="M419.8 774.2V768.3M415.8 768.3H423.8" stroke="#a5a4a8" stroke-width="1" fill="none"/>
<polygon points="159.60,829.40 163.69,833.50 159.60,837.60 155.50,833.50" fill="#a5a4a8"/>
<polygon points="211.80,671.90 215.90,676.00 211.80,680.10 207.71,676.00" fill="#a5a4a8"/>
<polygon points="263.80,694.90 267.90,699.00 263.80,703.10 259.70,699.00" fill="#a5a4a8"/>
<polygon points="315.80,720.30 319.90,724.40 315.80,728.50 311.70,724.40" fill="#a5a4a8"/>
<polygon points="367.80,754.90 371.90,759.00 367.80,763.10 363.70,759.00" fill="#a5a4a8"/>
<polygon points="419.80,770.11 423.90,774.20 419.80,778.30 415.70,774.20" fill="#a5a4a8"/>
<path d="M211.8 658.9V642.7M207.8 642.7H215.8" stroke="#00c400" stroke-width="1" fill="none"/>
<path d="M263.8 723.2V713.7M259.8 713.7H267.8" stroke="#00c400" stroke-width="1" fill="none"/>
<path d="M315.8 750.7V736.7M311.8 736.7H319.8" stroke="#00c400" stroke-width="1" fill="none"/>
<path d="M367.8 788.7V785.9M363.8 785.9H371.8" stroke="#00c400" stroke-width="1" fill="none"/>
<polygon points="155.20,828.30 164.00,828.30 159.60,836.30" fill="#00c400"/>
<polygon points="207.40,655.70 216.20,655.70 211.80,663.70" fill="#00c400"/>
<polygon points="259.40,720.00 268.20,720.00 263.80,728.00" fill="#00c400"/>
<polygon points="311.40,747.50 320.20,747.50 315.80,755.50" fill="#00c400"/>
<polygon points="363.40,785.50 372.20,785.50 367.80,793.50" fill="#00c400"/>
<polygon points="415.40,791.10 424.20,791.10 419.80,799.10" fill="#00c400"/>
<path d="M211.8 651.9V636.9M207.8 636.9H215.8" stroke="#fb0007" stroke-width="1" fill="none"/>
<path d="M263.8 688.5V677.0M259.8 677.0H267.8" stroke="#fb0007" stroke-width="1" fill="none"/>
<path d="M315.8 729.3V706.0M311.8 706.0H319.8" stroke="#fb0007" stroke-width="1" fill="none"/>
<path d="M419.8 790.2V781.6M415.8 781.6H423.8" stroke="#fb0007" stroke-width="1" fill="none"/>
<polygon points="159.60,825.68 164.11,833.88 155.09,833.88" fill="#fb0007"/>
<polygon points="211.80,646.98 216.31,655.18 207.29,655.18" fill="#fb0007"/>
<polygon points="263.80,683.58 268.31,691.78 259.29,691.78" fill="#fb0007"/>
<polygon points="315.80,724.38 320.31,732.58 311.29,732.58" fill="#fb0007"/>
<polygon points="367.80,793.08 372.31,801.28 363.29,801.28" fill="#fb0007"/>
<polygon points="419.80,785.28 424.31,793.48 415.29,793.48" fill="#fb0007"/>
<path d="M211.8 677.7V668.5M207.8 668.5H215.8" stroke="#0800f2" stroke-width="1" fill="none"/>
<path d="M263.8 675.6V661.2M259.8 661.2H267.8" stroke="#0800f2" stroke-width="1" fill="none"/>
<path d="M315.8 683.0V667.5M311.8 667.5H319.8" stroke="#0800f2" stroke-width="1" fill="none"/>
<path d="M367.8 688.7V669.7M363.8 669.7H371.8" stroke="#0800f2" stroke-width="1" fill="none"/>
<path d="M419.8 711.9V700.0M415.8 700.0H423.8" stroke="#0800f2" stroke-width="1" fill="none"/>
<rect x="155.95" y="827.35" width="7.30" height="7.30" fill="#0800f2"/>
<rect x="208.15" y="674.05" width="7.30" height="7.30" fill="#0800f2"/>
<rect x="260.15" y="671.95" width="7.30" height="7.30" fill="#0800f2"/>
<rect x="312.15" y="679.35" width="7.30" height="7.30" fill="#0800f2"/>
<rect x="364.15" y="685.05" width="7.30" height="7.30" fill="#0800f2"/>
<rect x="416.15" y="708.25" width="7.30" height="7.30" fill="#0800f2"/>
<path d="M211.8 662.1V653.5M207.8 653.5H215.8" stroke="#000" stroke-width="1" fill="none"/>
<path d="M263.8 670.1V664.2M259.8 664.2H267.8" stroke="#000" stroke-width="1" fill="none"/>
<path d="M315.8 667.5V656.4M311.8 656.4H319.8" stroke="#000" stroke-width="1" fill="none"/>
<path d="M367.8 669.7V656.4M363.8 656.4H371.8" stroke="#000" stroke-width="1" fill="none"/>
<path d="M419.8 675.3V664.7M415.8 664.7H423.8" stroke="#000" stroke-width="1" fill="none"/>
<circle cx="159.60" cy="829.50" r="3.65" fill="#000"/>
<circle cx="211.80" cy="662.10" r="3.65" fill="#000"/>
<circle cx="263.80" cy="670.10" r="3.65" fill="#000"/>
<circle cx="315.80" cy="667.50" r="3.65" fill="#000"/>
<circle cx="367.80" cy="669.70" r="3.65" fill="#000"/>
<circle cx="419.80" cy="675.30" r="3.65" fill="#000"/>
<polygon points="159.60,827.40 163.69,831.50 159.60,835.60 155.50,831.50" fill="#a5a4a8"/>
<polygon points="211.80,816.90 215.90,821.00 211.80,825.10 207.71,821.00" fill="#a5a4a8"/>
<polygon points="263.80,814.90 267.90,819.00 263.80,823.10 259.70,819.00" fill="#a5a4a8"/>
<polygon points="315.80,813.90 319.90,818.00 315.80,822.10 311.70,818.00" fill="#a5a4a8"/>
<polygon points="367.80,815.90 371.90,820.00 367.80,824.10 363.70,820.00" fill="#a5a4a8"/>
<polygon points="419.80,817.90 423.90,822.00 419.80,826.10 415.70,822.00" fill="#a5a4a8"/>
<path d="M159.6 816.5V805.9M155.6 805.9H163.6" stroke="#000" stroke-width="1" fill="none"/>
<path d="M419.8 812.0V804.5M415.8 804.5H423.8" stroke="#000" stroke-width="1" fill="none"/>
<circle cx="159.60" cy="816.50" r="3.65" fill="#000"/>
<circle cx="211.80" cy="827.70" r="3.65" fill="#000"/>
<circle cx="263.80" cy="829.70" r="3.65" fill="#000"/>
<circle cx="315.80" cy="824.30" r="3.65" fill="#000"/>
<circle cx="367.80" cy="824.50" r="3.65" fill="#000"/>
<circle cx="419.80" cy="812.00" r="3.65" fill="#000"/>
<path d="M211.8 819.5V812.2M207.8 812.2H215.8" stroke="#00c400" stroke-width="1" fill="none"/>
<path d="M315.8 816.0V807.9M311.8 807.9H319.8" stroke="#00c400" stroke-width="1" fill="none"/>
<polygon points="155.20,820.40 164.00,820.40 159.60,828.40" fill="#00c400"/>
<polygon points="207.40,816.30 216.20,816.30 211.80,824.30" fill="#00c400"/>
<polygon points="259.40,814.80 268.20,814.80 263.80,822.80" fill="#00c400"/>
<polygon points="311.40,812.80 320.20,812.80 315.80,820.80" fill="#00c400"/>
<polygon points="363.40,815.50 372.20,815.50 367.80,823.50" fill="#00c400"/>
<polygon points="415.40,810.80 424.20,810.80 419.80,818.80" fill="#00c400"/>
<path d="M211.8 819.5V815.5M207.8 815.5H215.8" stroke="#0800f2" stroke-width="1" fill="none"/>
<path d="M263.8 817.9V811.4M259.8 811.4H267.8" stroke="#0800f2" stroke-width="1" fill="none"/>
<path d="M367.8 813.0V808.5M363.8 808.5H371.8" stroke="#0800f2" stroke-width="1" fill="none"/>
<rect x="155.95" y="817.55" width="7.30" height="7.30" fill="#0800f2"/>
<rect x="208.15" y="815.85" width="7.30" height="7.30" fill="#0800f2"/>
<rect x="260.15" y="814.25" width="7.30" height="7.30" fill="#0800f2"/>
<rect x="312.15" y="812.25" width="7.30" height="7.30" fill="#0800f2"/>
<rect x="364.15" y="809.35" width="7.30" height="7.30" fill="#0800f2"/>
<rect x="416.15" y="806.85" width="7.30" height="7.30" fill="#0800f2"/>
<path d="M211.8 822.8V814.5M207.8 814.5H215.8" stroke="#fb0007" stroke-width="1" fill="none"/>
<path d="M263.8 821.2V813.8M259.8 813.8H267.8" stroke="#fb0007" stroke-width="1" fill="none"/>
<polygon points="159.60,824.98 164.11,833.18 155.09,833.18" fill="#fb0007"/>
<polygon points="211.80,817.88 216.31,826.08 207.29,826.08" fill="#fb0007"/>
<polygon points="263.80,816.28 268.31,824.48 259.29,824.48" fill="#fb0007"/>
<polygon points="315.80,814.08 320.31,822.28 311.29,822.28" fill="#fb0007"/>
<polygon points="367.80,817.88 372.31,826.08 363.29,826.08" fill="#fb0007"/>
<polygon points="419.80,812.98 424.31,821.18 415.29,821.18" fill="#fb0007"/>
<text x="211.5" y="638.4" font-size="20" font-weight="bold" text-anchor="middle" stroke="#000" stroke-width="0.2">*</text>
<text x="212.5" y="705.2" font-size="20" font-weight="bold" text-anchor="middle" stroke="#000" stroke-width="0.2">*</text>
<text x="263.9" y="661.6" font-size="20" font-weight="bold" text-anchor="middle" stroke="#000" stroke-width="0.2">*</text>
<text x="275.6" y="695.9" font-size="20" font-weight="bold" text-anchor="middle" stroke="#000" stroke-width="0.2">*</text>
<text x="242.5" y="751.4" font-size="20" font-weight="bold" text-anchor="middle" stroke="#000" stroke-width="0.2">*</text>
<text x="252.8" y="745.2" font-size="15" font-weight="bold" text-anchor="middle" stroke="#000" stroke-width="0.35">+</text>
<text x="263.1" y="745.1" font-size="12" font-weight="bold" text-anchor="middle" stroke="#000" stroke-width="0.35">#</text>
<text x="274.1" y="744.4" font-size="11.5" font-weight="bold" text-anchor="middle" stroke="#000" stroke-width="0">$</text>
<text x="285.5" y="746.4" font-size="17" font-weight="bold" text-anchor="middle" stroke="#000" stroke-width="0.35">~</text>
<text x="315.1" y="658.4" font-size="20" font-weight="bold" text-anchor="middle" stroke="#000" stroke-width="0.2">*</text>
<text x="325.1" y="685.6" font-size="20" font-weight="bold" text-anchor="middle" stroke="#000" stroke-width="0.2">*</text>
<text x="305.4" y="716.9" font-size="20" font-weight="bold" text-anchor="middle" stroke="#000" stroke-width="0.2">*</text>
<text x="316.5" y="711.0" font-size="15" font-weight="bold" text-anchor="middle" stroke="#000" stroke-width="0.35">+</text>
<text x="328.2" y="711.1" font-size="12" font-weight="bold" text-anchor="middle" stroke="#000" stroke-width="0.35">#</text>
<text x="301.8" y="774.0" font-size="20" font-weight="bold" text-anchor="middle" stroke="#000" stroke-width="0.2">*</text>
<text x="312.9" y="768.2" font-size="15" font-weight="bold" text-anchor="middle" stroke="#000" stroke-width="0.35">+</text>
<text x="324.2" y="768.9" font-size="12" font-weight="bold" text-anchor="middle" stroke="#000" stroke-width="0.35">#</text>
<text x="367.6" y="657.4" font-size="20" font-weight="bold" text-anchor="middle" stroke="#000" stroke-width="0.2">*</text>
<text x="375.6" y="689.4" font-size="20" font-weight="bold" text-anchor="middle" stroke="#000" stroke-width="0.2">*</text>
<text x="357.8" y="750.9" font-size="20" font-weight="bold" text-anchor="middle" stroke="#000" stroke-width="0.2">*</text>
<text x="369.1" y="745.0" font-size="15" font-weight="bold" text-anchor="middle" stroke="#000" stroke-width="0.35">+</text>
<text x="380.0" y="745.4" font-size="12" font-weight="bold" text-anchor="middle" stroke="#000" stroke-width="0.35">#</text>
<text x="359.1" y="781.2" font-size="15" font-weight="bold" text-anchor="middle" stroke="#000" stroke-width="0.35">+</text>
<text x="368.5" y="781.0" font-size="12" font-weight="bold" text-anchor="middle" stroke="#000" stroke-width="0.35">#</text>
<text x="380.5" y="782.3" font-size="17" font-weight="bold" text-anchor="middle" stroke="#000" stroke-width="0.35">~</text>
<text x="420.2" y="662.1" font-size="20" font-weight="bold" text-anchor="middle" stroke="#000" stroke-width="0.2">*</text>
<text x="419.7" y="701.9" font-size="20" font-weight="bold" text-anchor="middle" stroke="#000" stroke-width="0.2">*</text>
<text x="416.1" y="762.9" font-size="15" font-weight="bold" text-anchor="middle" stroke="#000" stroke-width="0.35">+</text>
<text x="426.3" y="762.9" font-size="12" font-weight="bold" text-anchor="middle" stroke="#000" stroke-width="0.35">#</text>
<text x="430.8" y="797.5" font-size="15" font-weight="bold" text-anchor="middle" stroke="#000" stroke-width="0.35">+</text>
<text x="440.9" y="797.5" font-size="12" font-weight="bold" text-anchor="middle" stroke="#000" stroke-width="0.35">#</text>
<text x="290" y="877.3" font-size="12.5" text-anchor="middle">Days post-surgery</text>
<text x="95.5" y="904.9" font-size="11.5">Days of treatment</text>
<rect x="193.9" y="892.3" width="246.0" height="17.0" fill="none" stroke="#111" stroke-width="1.4"/>
<text x="210.7" y="904.9" font-size="11" text-anchor="middle">0</text>
<text x="262.7" y="904.9" font-size="11" text-anchor="middle">1</text>
<text x="314.4" y="904.9" font-size="11" text-anchor="middle">2</text>
<text x="366.2" y="904.9" font-size="11" text-anchor="middle">3</text>
<text x="419.0" y="904.9" font-size="11" text-anchor="middle">4</text>
</svg>
</body></html>
